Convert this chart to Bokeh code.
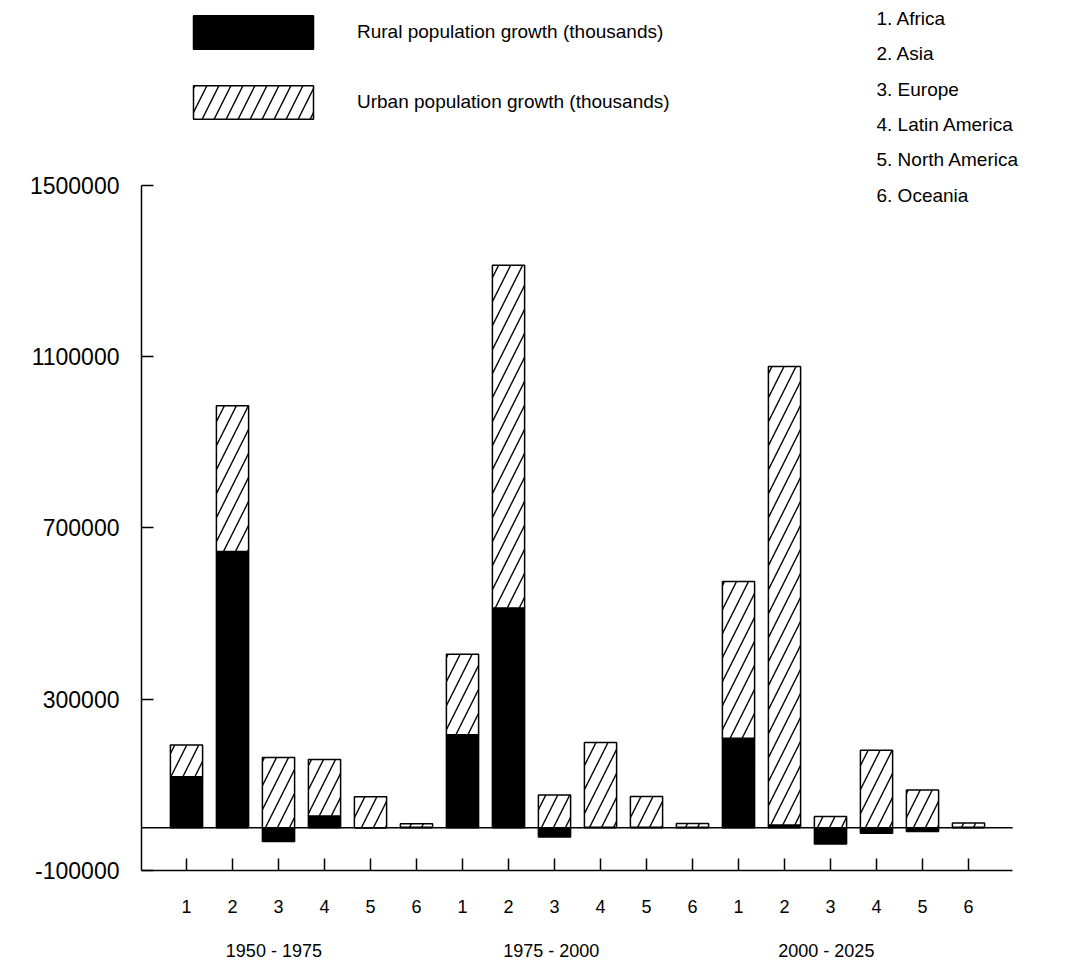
from bokeh.plotting import figure
from bokeh.models import (FixedTicker, LinearAxis, Range1d, ColumnDataSource,
                          Legend, LegendItem)
from bokeh.core.properties import value
from bokeh.embed import file_html
from bokeh.resources import INLINE

# ---------------- data (thousands) ----------------
periods = ["1950 - 1975", "1975 - 2000", "2000 - 2025"]
regions = ["1. Africa", "2. Asia", "3. Europe", "4. Latin America",
           "5. North America", "6. Oceania"]
region_ticks = ["1", "2", "3", "4", "5", "6"]

rural_1950 = [119, 645, -32, 27, 0, 1]
urban_1950 = [74, 340, 164, 132, 72, 8]
rural_1975 = [217, 513, -22, 1, 1, 1]
urban_1975 = [188, 800, 76, 198, 72, 9]
rural_2000 = [209, 6, -38, -13, -9, 1]
urban_2000 = [366, 1071, 26, 181, 88, 10]

y_ticks = [-100000, 300000, 700000, 1100000, 1500000]
y_tick_labels = ["-100000", "300000", "700000", "1100000", "1500000"]

legend_rural = "Rural population growth (thousands)"
legend_urban = "Urban population growth (thousands)"

# ---------------- build stacked columns ----------------
rural = [v * 1000 for v in rural_1950 + rural_1975 + rural_2000]
urban = [v * 1000 for v in urban_1950 + urban_1975 + urban_2000]
n = len(rural)
xs = list(range(1, n + 1))
u_bottom = [max(r, 0) for r in rural]
u_top = [b + u for b, u in zip(u_bottom, urban)]
src = ColumnDataSource(dict(x=xs, rural=rural, zero=[0] * n,
                            ub=u_bottom, ut=u_top))

FONT = "Liberation Sans"
W, H = 1070, 963
FRAME_L, FRAME_T, FRAME_B = 141, 8, 871
px_per_unit = 46.0
x_lo = 1 - 45 / px_per_unit
x_hi_axis = n + 0.96
x_hi = 1 + (W - 186) / px_per_unit
units_per_px = 1600000 / 686.3
y_top = 1500000 + (185 - FRAME_T) * units_per_px

p = figure(width=W, height=H, output_backend="svg", toolbar_location=None,
           x_range=Range1d(x_lo, x_hi), y_range=Range1d(-100000, y_top),
           min_border_left=FRAME_L, min_border_right=0, min_border_top=FRAME_T,
           min_border_bottom=H - FRAME_B)
p.outline_line_color = None
p.xgrid.visible = False
p.ygrid.visible = False
p.background_fill_color = "white"
p.border_fill_color = "white"

# zero line
p.line(x=[x_lo, x_hi_axis], y=[0, 0], line_color="black", line_width=1.5)

r_rural = p.vbar(x="x", top="rural", bottom="zero", width=0.7, source=src,
                 fill_color="black", line_color="black", line_width=1.5)
r_urban = p.vbar(x="x", top="ut", bottom="ub", width=0.7, source=src,
                 fill_color="white", line_color="black", line_width=1.5,
                 hatch_pattern="/", hatch_color="black", hatch_weight=1.4,
                 hatch_scale=24)

# y axis
ya = p.yaxis[0]
ya.ticker = FixedTicker(ticks=y_ticks)
ya.major_label_overrides = {t: l for t, l in zip(y_ticks, y_tick_labels)}
ya.bounds = (-100000, 1500000)
ya.major_tick_in = 12
ya.major_tick_out = 0
ya.minor_tick_line_color = None
ya.axis_line_width = 1.5
ya.major_tick_line_width = 1.5
ya.major_label_text_font = FONT
ya.major_label_text_font_size = "23px"
ya.major_label_text_color = "black"
ya.major_label_standoff = 22

# x axis (region numbers)
xa = p.xaxis[0]
xa.ticker = FixedTicker(ticks=xs)
xa.major_label_overrides = {x: region_ticks[(x - 1) % 6] for x in xs}
xa.bounds = (x_lo, x_hi_axis)
xa.major_tick_in = 12
xa.major_tick_out = 0
xa.minor_tick_line_color = None
xa.axis_line_width = 1.5
xa.major_tick_line_width = 1.5
xa.major_label_text_font = FONT
xa.major_label_text_font_size = "18px"
xa.major_label_text_color = "black"
xa.major_label_standoff = 29

# period axis
group_ticks = [2.9, 8.93, 14.91]
xa2 = LinearAxis(ticker=FixedTicker(ticks=group_ticks),
                 major_label_overrides={t: l for t, l in zip(group_ticks, periods)})
xa2.axis_line_color = None
xa2.major_tick_line_color = None
xa2.minor_tick_line_color = None
xa2.major_label_text_font = FONT
xa2.major_label_text_font_size = "18px"
xa2.major_label_text_color = "black"
xa2.major_label_standoff = 19
p.add_layout(xa2, "below")

# series legend (legend glyphs are drawn inset by 10 %)
gw, gh = 120 / 0.8, 34 / 0.8
legend = Legend(items=[LegendItem(label=legend_rural, renderers=[r_rural]),
                       LegendItem(label=legend_urban, renderers=[r_urban])],
                location=(193 - 0.1 * gw - FRAME_L, FRAME_B - (120 + 0.1 * gh)),
                glyph_width=int(round(gw)), glyph_height=int(round(gh)),
                spacing=28, label_standoff=29, padding=0, margin=0,
                border_line_color=None, background_fill_alpha=0,
                label_text_font=FONT, label_text_font_size="19px",
                label_text_color="black")
p.add_layout(legend)

# region list
rx = 1 + (876 - 186) / px_per_unit
ry = [1500000 + (185 - (18 + 35.4 * i)) * units_per_px for i in range(len(regions))]
p.text(x=[rx] * len(regions), y=ry, text=regions, text_font=value(FONT),
       text_font_size="19px", text_baseline="middle", text_align="left",
       text_color="black")

open("out.html", "w").write(file_html(p, INLINE))
